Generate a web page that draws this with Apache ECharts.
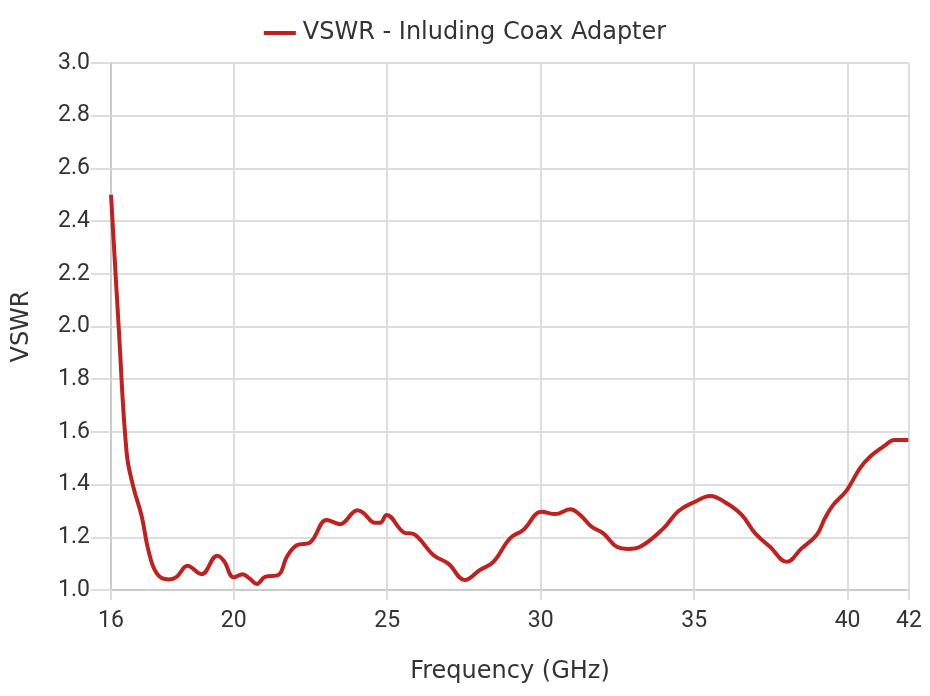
<!DOCTYPE html>
<html>
<head>
<meta charset="utf-8">
<script src="https://cdn.jsdelivr.net/npm/echarts@6/dist/echarts.min.js"></script>
<style>html,body{margin:0;padding:0;background:#fff}#c{width:930px;height:696px}</style>
</head>
<body>
<div id="c"></div>
<script>
const freq = [16.0,16.25,16.51,16.73,17.0,17.22,17.49,17.87,18.14,18.49,18.95,19.46,19.68,20.0,20.29,20.5,20.75,21.02,21.45,21.73,22.05,22.48,23.03,23.46,24.03,24.22,24.6,24.77,24.98,25.52,25.9,26.5,26.99,27.53,28.02,28.46,29.0,29.43,30.03,30.47,30.96,31.28,31.66,32.04,32.48,32.86,33.24,34.0,34.49,35.03,35.52,36.06,36.55,36.99,37.47,38.02,38.5,38.99,39.26,39.53,39.97,40.4,40.73,41.16,41.54,41.98];
const vswr = [2.50,2.00,1.52,1.39,1.28,1.15,1.063,1.04,1.05,1.092,1.06,1.13,1.11,1.048,1.06,1.045,1.023,1.05,1.057,1.126,1.17,1.18,1.266,1.25,1.303,1.293,1.255,1.255,1.285,1.22,1.21,1.133,1.10,1.038,1.076,1.107,1.196,1.228,1.297,1.288,1.306,1.285,1.24,1.215,1.164,1.156,1.164,1.234,1.30,1.335,1.357,1.329,1.285,1.215,1.164,1.107,1.158,1.209,1.272,1.323,1.378,1.462,1.506,1.544,1.569,1.569];
const xTicks = [16,20,25,30,35,40,42];
const seriesName = 'VSWR - Inluding Coax Adapter';

const titleFont = '"DejaVu Sans", sans-serif';
const labelFont = 'Roboto, sans-serif';
const chart = echarts.init(document.getElementById('c'), null, {renderer:'canvas'});
chart.setOption({
  animation: false,
  legend: {
    top: 16, left: 455, 
    icon: 'rect', itemWidth: 32, itemHeight: 4, itemGap: 10,
    textStyle: {fontFamily: titleFont, fontSize: 24, color: '#333', padding: [0,0,0,2]},
    data: [seriesName]
  },
  grid: {left: 111, right: 21, top: 63, bottom: 106, containLabel: false},
  xAxis: {
    type: 'value', min: 16, max: 42,
    name: 'Frequency (GHz)', nameLocation: 'middle', nameGap: 70,
    nameTextStyle: {fontFamily: titleFont, fontSize: 24, color: '#333'},
    axisLine: {show: true, lineStyle: {color: '#cccccc', width: 2}},
    axisTick: {show: true, length: 10, customValues: xTicks, lineStyle: {color: '#dddddd', width: 2}},
    axisLabel: {customValues: xTicks, fontFamily: labelFont, fontSize: 23, color: '#333', margin: 20},
    splitLine: {show: true, lineStyle: {color: '#dddddd', width: 2}}
  },
  yAxis: {
    type: 'value', min: 1, max: 3, interval: 0.2,
    name: 'VSWR', nameLocation: 'middle', nameGap: 77, nameRotate: 90,
    nameTextStyle: {fontFamily: titleFont, fontSize: 24, color: '#333'},
    axisLine: {show: true, lineStyle: {color: '#cccccc', width: 2}},
    axisTick: {show: true, length: 20, lineStyle: {color: '#dddddd', width: 2}},
    axisLabel: {fontFamily: labelFont, fontSize: 23, color: '#333', margin: 21, formatter: v => v.toFixed(1)},
    splitLine: {show: true, lineStyle: {color: '#dddddd', width: 2}}
  },
  series: [{
    name: seriesName, type: 'line',
    data: freq.map((f, i) => [f, vswr[i]]),
    smooth: 0.4, symbol: 'none',
    lineStyle: {color: '#C0211F', width: 4},
    itemStyle: {color: '#C0211F'}
  }]
});
chart.setOption({legend: {left: 'center'}});
</script>
</body>
</html>
